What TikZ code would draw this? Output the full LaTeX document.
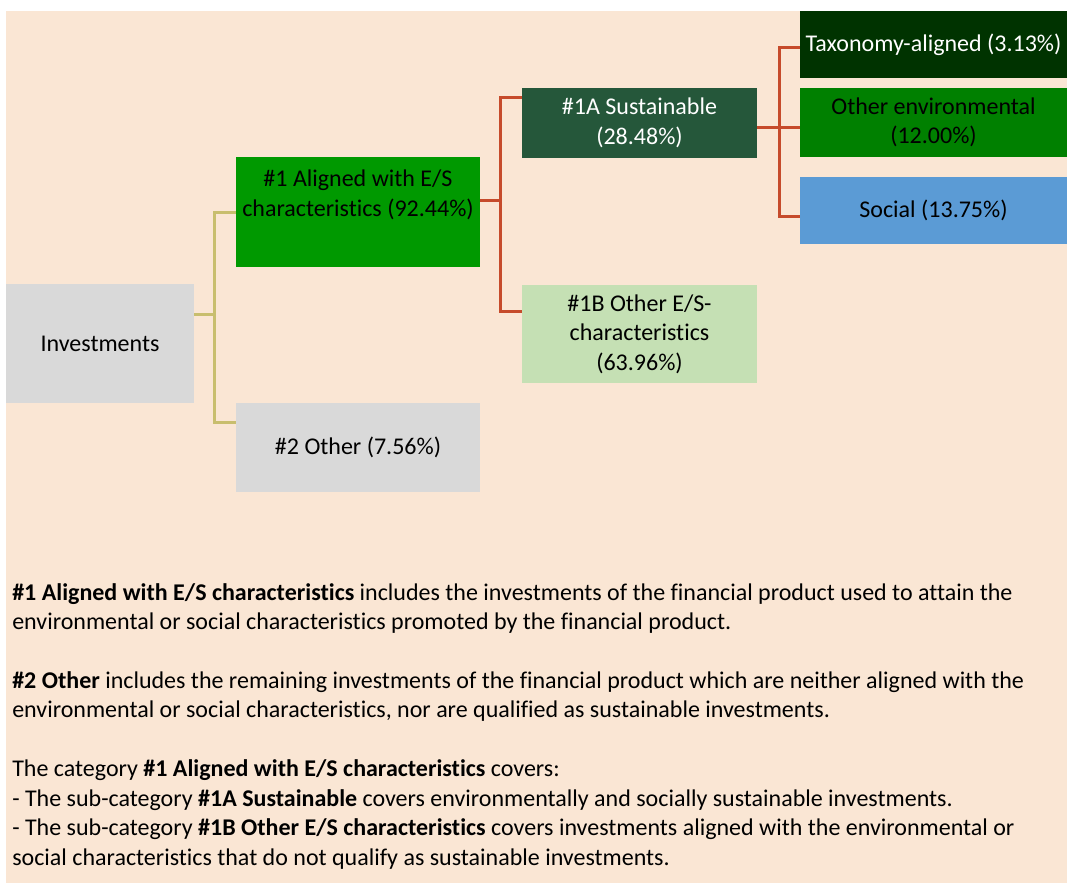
\documentclass[tikz,border=0pt]{standalone}
\usepackage{fontspec}
\setmainfont{Carlito}[Ligatures=NoCommon]
\usepackage{xcolor}
\usepackage{tikz}
\usetikzlibrary{positioning}

\definecolor{bgpeach}{HTML}{FAE6D4}
\definecolor{boxgray}{HTML}{D9D9D9}
\definecolor{esgreen}{HTML}{009900}
\definecolor{susgreen}{HTML}{25573A}
\definecolor{oesgreen}{HTML}{C5E0B4}
\definecolor{taxgreen}{HTML}{003300}
\definecolor{envgreen}{HTML}{008000}
\definecolor{socblue}{HTML}{5B9BD5}
\definecolor{linkyellow}{HTML}{C8BE6E}
\definecolor{linkred}{HTML}{C64B2B}

\begin{document}
\begin{tikzpicture}[x=0.75pt, y=-0.75pt]

% Define styles for the nodes
\tikzstyle{box} = [rectangle, draw=none, inner sep=0pt, align=center, text centered, font=\fontsize{18}{22.1}\selectfont]
\tikzstyle{ylink} = [draw=linkyellow, line width=2.25pt]
\tikzstyle{rlink} = [draw=linkred, line width=2.25pt]

\useasboundingbox (0,0) rectangle (1067,885);
\fill[bgpeach] (6,11) rectangle (1067,883);

% Nodes
\node (inv) [box, fill=boxgray, minimum width=141pt, minimum height=89.25pt] at (100,343.5) {Investments};
\node (es) [box, fill=esgreen, minimum width=183pt, minimum height=82.5pt] at (358,212) {};
\node (estext) [box] at (358,195) {\#1 Aligned with E/S\\characteristics (92.44\%)};
\node (oth) [box, fill=boxgray, minimum width=183pt, minimum height=66.75pt] at (358,447.5) {\#2 Other (7.56\%)};
\node (sus) [box, fill=susgreen, text=white, minimum width=176.25pt, minimum height=52.5pt] at (639.5,123) {\#1A Sustainable\\(28.48\%)};
\node (oes) [box, fill=oesgreen, minimum width=176.25pt, minimum height=73.5pt] at (639.5,334) {\#1B Other E/S-\\characteristics\\(63.96\%)};
\node (tax) [box, fill=taxgreen, text=white, minimum width=200.25pt, minimum height=50.25pt] at (933.5,44.5) {Taxonomy-aligned (3.13\%)};
\node (env) [box, fill=envgreen, minimum width=200.25pt, minimum height=51.75pt] at (933.5,122.5) {Other environmental\\(12.00\%)};
\node (soc) [box, fill=socblue, minimum width=200.25pt, minimum height=50.25pt] at (933.5,210.5) {Social (13.75\%)};

% Junctions
\coordinate (ymid) at (214,314);
\coordinate (ytop) at (214,212);
\coordinate (ybot) at (214,422);
\coordinate (rmid) at (500,200);
\coordinate (rtop) at (500,97);
\coordinate (rbot) at (500,311);
\coordinate (smid) at (779,127);
\coordinate (stop) at (779,47);
\coordinate (sbot) at (779,216);

% Arrows
\draw[ylink] (inv.east |- ymid) -- (ymid);
\draw[ylink] (es.west |- ytop) -- (ytop) -- (ybot) -- (oth.west |- ybot);
\draw[rlink] (es.east |- rmid) -- (rmid);
\draw[rlink] (sus.west |- rtop) -- (rtop) -- (rbot) -- (oes.west |- rbot);
\draw[rlink] (sus.east |- smid) -- (smid);
\draw[rlink] (tax.west |- stop) -- (stop) -- (sbot) -- (soc.west |- sbot);
\draw[rlink] (smid) -- (env.west |- smid);

% Notes
\node (notes) [anchor=north west, align=left, inner sep=0pt, font=\fontsize{18}{22.1}\selectfont] at (12,583) {%
\textbf{\#1 Aligned with E/S characteristics} includes the investments of the financial product used to attain the\\
environmental or social characteristics promoted by the financial product.\\[22.1pt]
\textbf{\#2 Other} includes the remaining investments of the financial product which are neither aligned with the\\
environmental or social characteristics, nor are qualified as sustainable investments.\\[22.1pt]
The category \textbf{\#1 Aligned with E/S characteristics} covers:\\
- The sub-category \textbf{\#1A Sustainable} covers environmentally and socially sustainable investments.\\
- The sub-category \textbf{\#1B Other E/S characteristics} covers investments aligned with the environmental or\\
social characteristics that do not qualify as sustainable investments.};

\end{tikzpicture}
\end{document}
